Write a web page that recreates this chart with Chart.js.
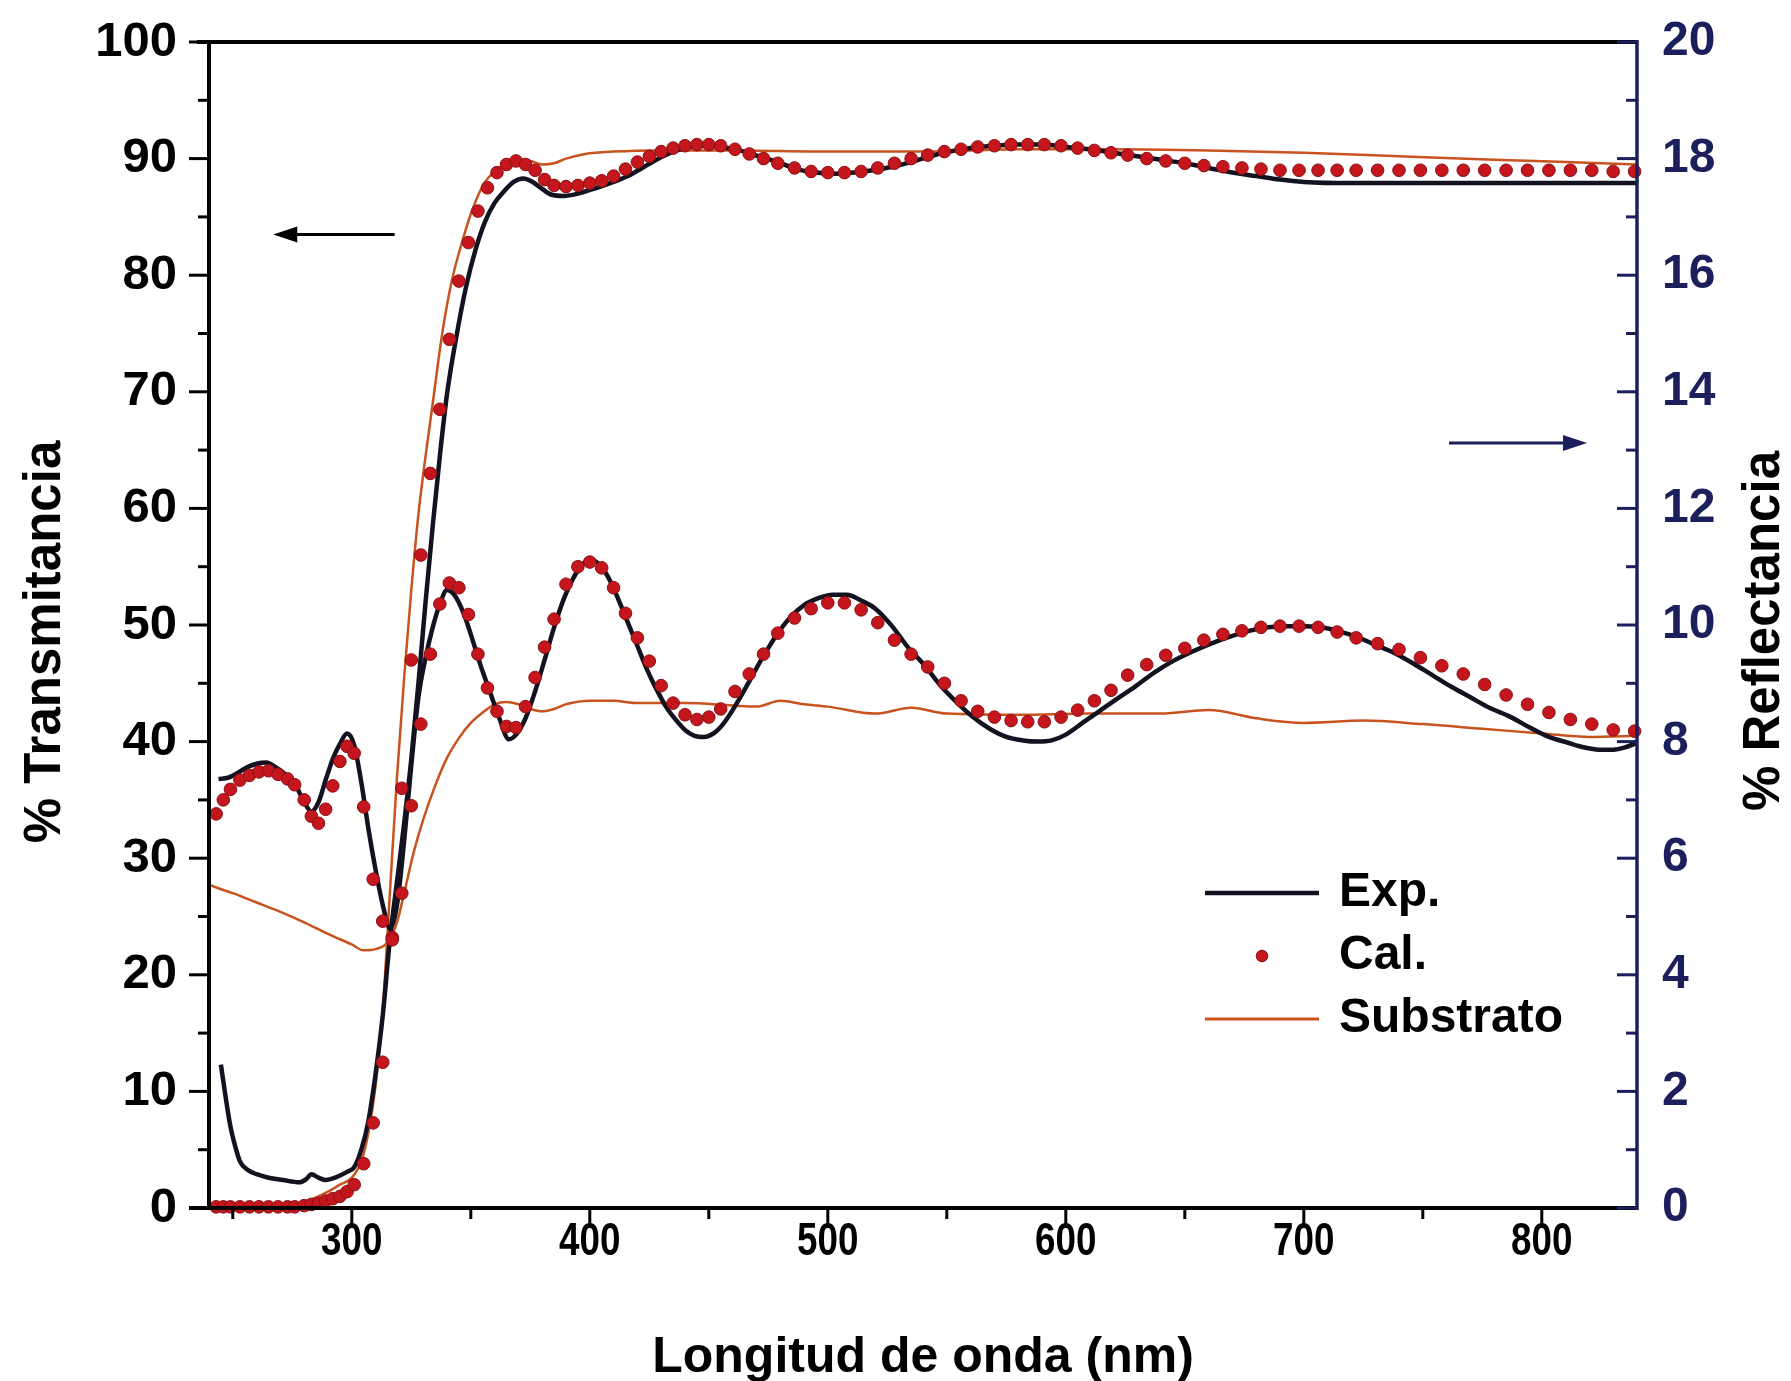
<!DOCTYPE html>
<html><head><meta charset="utf-8">
<script src="https://cdn.jsdelivr.net/npm/chart.js@4.4.1/dist/chart.umd.min.js"></script>
<style>html,body{margin:0;padding:0;background:#fff;overflow:hidden}canvas{display:block}</style>
</head><body>
<canvas id="c" width="1791" height="1381"></canvas>
<script>
// ---- tick values ----
const xTickVals=[300,400,500,600,700,800];
const xMinorVals=[250,350,450,550,650,750];
const yTickVals=[0,10,20,30,40,50,60,70,80,90,100];
const yMinorVals=[5,15,25,35,45,55,65,75,85,95];
const y2TickVals=[0,2,4,6,8,10,12,14,16,18,20];
const y2MinorVals=[1,3,5,7,9,11,13,15,17,19];
const seriesLabels=['Exp.','Cal.','Substrato'];
const xTitle='Longitud de onda (nm)';
const yTitle='% Transmitancia';
const y2Title='% Reflectancia';

// ---- Exp. transmittance (%) ----
const expTX=[245,247,249,251,253,256,260,265,271,278,281,283,286,289,293,298,301,304,307,310,313,316,319,322,325,328,331,334,337,340,344,348,352,356,360,364,368,372,376,380,384,389,395,403,410,416,422,428,434,440,447,455,463,471,479,487,495,503,511,519,527,535,543,551,560,570,580,590,600,610,620,630,640,650,660,670,680,690,700,720,740,760,780,800,820,840];
const expT=[12.3,9.5,7.0,5.3,4.0,3.3,2.9,2.6,2.4,2.2,2.5,2.9,2.6,2.4,2.6,3.1,3.5,5.0,7.5,11.5,16.5,23.0,28.0,33.0,38.5,45.0,52.0,58.5,64.5,69.8,74.8,79.0,82.2,84.6,86.2,87.2,88.0,88.3,88.0,87.4,86.9,86.8,87.0,87.5,88.0,88.5,89.2,89.9,90.5,90.9,91.1,91.0,90.7,90.2,89.7,89.1,88.8,88.7,88.8,89.0,89.3,89.7,90.2,90.6,90.9,91.1,91.2,91.2,91.0,90.8,90.5,90.2,89.9,89.6,89.2,88.8,88.5,88.2,88.0,87.9,87.9,87.9,87.9,87.9,87.9,87.9];

// ---- Exp. reflectance (%) ----
const expRX=[244,248,252,256,260,264,268,272,276,280,283,286,289,292,295,298,301,304,307,310,313,316,319,322,325,328,331,334,337,340,343,347,350,354,358,362,366,369,373,377,381,385,389,393,397,400,404,408,412,416,420,424,428,432,436,440,444,448,452,456,460,466,472,478,484,490,496,502,508,514,520,527,534,540,547,554,561,568,575,582,588,594,600,607,614,621,629,637,645,653,661,669,677,685,693,700,707,714,722,730,738,746,754,762,770,778,787,795,803,811,818,825,830,835,840];
const expR=[7.36,7.38,7.46,7.56,7.62,7.64,7.56,7.44,7.28,6.96,6.80,6.96,7.34,7.70,7.96,8.14,7.94,7.30,6.50,5.80,5.20,4.80,5.20,6.30,7.60,8.76,9.44,9.96,10.36,10.60,10.52,10.20,9.84,9.32,8.86,8.40,8.04,8.12,8.40,8.86,9.40,9.96,10.44,10.80,11.04,11.12,11.04,10.80,10.44,10.04,9.64,9.24,8.90,8.60,8.38,8.20,8.10,8.08,8.14,8.30,8.54,8.96,9.40,9.80,10.12,10.34,10.46,10.52,10.52,10.42,10.28,9.98,9.60,9.34,8.98,8.68,8.42,8.22,8.08,8.02,8.00,8.02,8.12,8.32,8.52,8.72,8.94,9.18,9.38,9.54,9.68,9.80,9.90,9.96,9.98,9.98,9.96,9.90,9.80,9.66,9.52,9.34,9.14,8.94,8.76,8.58,8.42,8.24,8.08,7.98,7.90,7.86,7.86,7.90,7.98];

// ---- Cal. (calculated points) ----
const calX=[243,246,249,253,257,261,265,269,273,276,280,283,286,289,292,295,298,301,305,309,313,317,321,325,329,333,337,341,345,349,353,357,361,365,369,373,377,381,385,390,395,400,405,410,415,420,425,430,435,440,445,450,455,461,467,473,479,486,493,500,507,514,521,528,535,542,549,556,563,570,577,584,591,598,605,612,619,626,634,642,650,658,666,674,682,690,698,706,714,722,731,740,749,758,767,776,785,794,803,812,821,830,839];
const calT=[0.1,0.1,0.1,0.1,0.1,0.1,0.1,0.1,0.1,0.1,0.2,0.3,0.4,0.6,0.8,1.0,1.4,2.0,3.8,7.3,12.5,23.0,36.0,47.0,56.0,63.0,68.5,74.5,79.5,82.8,85.5,87.5,88.8,89.5,89.8,89.5,89.0,88.2,87.7,87.6,87.7,87.9,88.1,88.5,89.1,89.7,90.2,90.6,90.9,91.1,91.2,91.2,91.1,90.8,90.4,90.0,89.6,89.2,88.9,88.8,88.8,88.9,89.2,89.6,90.0,90.3,90.6,90.8,91.0,91.1,91.2,91.2,91.2,91.1,90.9,90.7,90.5,90.3,90.0,89.8,89.6,89.4,89.3,89.2,89.1,89.0,89.0,89.0,89.0,89.0,89.0,89.0,89.0,89.0,89.0,89.0,89.0,89.0,89.0,89.0,89.0,88.9,88.9];
const calR=[6.76,7.00,7.18,7.34,7.42,7.48,7.50,7.44,7.36,7.26,7.00,6.72,6.60,6.84,7.24,7.66,7.92,7.80,6.88,5.64,4.92,4.64,5.40,6.90,8.30,9.50,10.36,10.72,10.64,10.18,9.50,8.92,8.52,8.26,8.24,8.60,9.10,9.62,10.10,10.70,11.00,11.08,10.98,10.64,10.20,9.78,9.38,8.96,8.66,8.46,8.38,8.42,8.56,8.86,9.16,9.50,9.86,10.12,10.28,10.38,10.38,10.26,10.04,9.74,9.50,9.28,9.00,8.70,8.52,8.42,8.36,8.34,8.34,8.42,8.54,8.70,8.88,9.14,9.32,9.48,9.60,9.74,9.84,9.90,9.96,9.98,9.98,9.96,9.88,9.78,9.68,9.58,9.44,9.30,9.16,8.98,8.80,8.64,8.50,8.38,8.30,8.20,8.18];

// ---- Substrate ----
const subTX=[240,250,260,270,275,280,285,290,295,300,304,307,310,313,316,319,322,325,328,331,334,338,342,347,351,356,361,366,370,375,380,385,390,398,410,430,460,500,540,580,620,660,700,740,780,810,840];
const subT=[0.1,0.1,0.1,0.1,0.2,0.5,0.9,1.4,2.0,2.6,4.0,6.5,10.5,17.0,27.0,37.0,45.5,53.0,59.5,64.5,69.0,75.0,79.5,83.3,85.8,88.0,89.0,89.6,89.9,89.8,89.5,89.6,90.0,90.4,90.6,90.7,90.7,90.6,90.6,90.8,90.8,90.7,90.5,90.2,89.9,89.7,89.5];
const subRX=[240,250,260,270,280,290,300,305,310,315,319,322,326,330,335,340,345,350,355,360,365,370,375,380,385,390,400,410,420,440,460,470,480,490,500,520,535,550,580,610,640,660,680,700,725,750,775,800,820,840];
const subR=[5.54,5.40,5.24,5.08,4.90,4.70,4.52,4.42,4.44,4.56,4.90,5.40,6.10,6.66,7.24,7.72,8.06,8.32,8.50,8.64,8.68,8.64,8.56,8.52,8.56,8.64,8.70,8.70,8.66,8.66,8.62,8.60,8.70,8.64,8.60,8.48,8.58,8.48,8.46,8.48,8.48,8.54,8.40,8.32,8.36,8.30,8.22,8.14,8.08,8.10];

// ---- styles ----
const FONT='"Liberation Sans", Arial, Helvetica, sans-serif';
const expColor='#121220';
const calColor='#c4161c';
const calEdge='#8a1014';
const subColor='#c9531f';
const navy='#1b1f5c';

const pts=(xs,ys)=>xs.map((x,i)=>({x:x,y:ys[i]}));

const expStyle={borderColor:expColor,borderWidth:4.5,pointRadius:0,cubicInterpolationMode:'monotone',fill:false,order:2};
const calStyle={showLine:false,pointRadius:6.3,pointBackgroundColor:calColor,pointBorderColor:calEdge,pointBorderWidth:1,order:1,clip:10};
const subStyle={borderColor:subColor,borderWidth:2.5,pointRadius:0,cubicInterpolationMode:'monotone',fill:false,order:3};

function drawArrow(ctx,x1,y,x2,color,lw){
  ctx.save();
  ctx.strokeStyle=color;ctx.fillStyle=color;ctx.lineWidth=lw;
  const dir=Math.sign(x2-x1);
  ctx.beginPath();ctx.moveTo(x1,y);ctx.lineTo(x2-dir*18,y);ctx.stroke();
  ctx.beginPath();ctx.moveTo(x2,y);ctx.lineTo(x2-dir*24,y-8);ctx.lineTo(x2-dir*24,y+8);ctx.closePath();ctx.fill();
  ctx.restore();
}

const noPad=s=>{s.paddingTop=0;s.paddingBottom=0;s.paddingLeft=0;s.paddingRight=0;};

const framePlugin={
  id:'frame',
  afterDraw(chart){
    const {ctx,chartArea:a,scales:{x,y,y2}}=chart;
    ctx.save();
    ctx.lineCap='butt';
    // axis lines
    ctx.strokeStyle='#000';ctx.lineWidth=4;
    ctx.beginPath();ctx.moveTo(a.left-12,a.top);ctx.lineTo(a.right,a.top);ctx.stroke();
    ctx.beginPath();ctx.moveTo(a.left-20,a.bottom);ctx.lineTo(a.right,a.bottom);ctx.stroke();
    ctx.beginPath();ctx.moveTo(a.left,a.top-2);ctx.lineTo(a.left,a.bottom+2);ctx.stroke();
    ctx.strokeStyle=navy;ctx.lineWidth=3.5;
    ctx.beginPath();ctx.moveTo(a.right,a.top-2);ctx.lineTo(a.right,a.bottom+2);ctx.stroke();
    // left ticks (outward)
    ctx.strokeStyle='#000';ctx.lineWidth=3;
    yTickVals.forEach(v=>{const p=y.getPixelForValue(v);ctx.beginPath();ctx.moveTo(a.left,p);ctx.lineTo(a.left-20,p);ctx.stroke();});
    yMinorVals.forEach(v=>{const p=y.getPixelForValue(v);ctx.beginPath();ctx.moveTo(a.left,p);ctx.lineTo(a.left-11,p);ctx.stroke();});
    // bottom ticks (outward)
    xTickVals.forEach(v=>{const p=x.getPixelForValue(v);ctx.beginPath();ctx.moveTo(p,a.bottom);ctx.lineTo(p,a.bottom+20);ctx.stroke();});
    xMinorVals.forEach(v=>{const p=x.getPixelForValue(v);ctx.beginPath();ctx.moveTo(p,a.bottom);ctx.lineTo(p,a.bottom+11);ctx.stroke();});
    // bottom tick labels (slightly condensed, as in the original)
    ctx.fillStyle='#000';ctx.textAlign='center';ctx.textBaseline='middle';
    ctx.font='bold 46px '+FONT;
    xTickVals.forEach(v=>{const p=x.getPixelForValue(v);ctx.save();ctx.translate(p,a.bottom+34);ctx.scale(0.8,1);ctx.fillText(String(v),0,0);ctx.restore();});
    // right ticks (inward)
    ctx.strokeStyle=navy;
    y2TickVals.forEach(v=>{const p=y2.getPixelForValue(v);ctx.beginPath();ctx.moveTo(a.right,p);ctx.lineTo(a.right-20,p);ctx.stroke();});
    y2MinorVals.forEach(v=>{const p=y2.getPixelForValue(v);ctx.beginPath();ctx.moveTo(a.right,p);ctx.lineTo(a.right-11,p);ctx.stroke();});
    // arrows
    drawArrow(ctx,x.getPixelForValue(318),y.getPixelForValue(83.5),x.getPixelForValue(267),'#000',3);
    drawArrow(ctx,x.getPixelForValue(761),y.getPixelForValue(65.6),x.getPixelForValue(819),navy,3);
    // y titles (both read bottom-to-top)
    ctx.fillStyle='#000';ctx.textAlign='center';ctx.textBaseline='middle';
    ctx.font='bold 51px '+FONT;
    ctx.save();ctx.translate(46,642);ctx.rotate(-Math.PI/2);ctx.fillText(yTitle,0,0);ctx.restore();
    ctx.save();ctx.translate(1765,631);ctx.rotate(-Math.PI/2);ctx.fillText(y2Title,0,0);ctx.restore();
    // legend
    const lx0=1205,lx1=1319,tx=1339,ly=893,dy=63;
    ctx.textAlign='left';ctx.font='bold 48px '+FONT;
    ctx.strokeStyle=expColor;ctx.lineWidth=4.5;
    ctx.beginPath();ctx.moveTo(lx0,ly);ctx.lineTo(lx1,ly);ctx.stroke();
    ctx.fillText(seriesLabels[0],tx,ly);
    ctx.fillStyle=calColor;ctx.strokeStyle=calEdge;ctx.lineWidth=1;
    ctx.beginPath();ctx.arc((lx0+lx1)/2,ly+dy,5.8,0,Math.PI*2);ctx.fill();ctx.stroke();
    ctx.fillStyle='#000';ctx.fillText(seriesLabels[1],tx,ly+dy);
    ctx.strokeStyle=subColor;ctx.lineWidth=3;
    ctx.beginPath();ctx.moveTo(lx0,ly+2*dy);ctx.lineTo(lx1,ly+2*dy);ctx.stroke();
    ctx.fillText(seriesLabels[2],tx,ly+2*dy);
    ctx.restore();
  }
};

new Chart(document.getElementById('c').getContext('2d'),{
  type:'line',
  data:{datasets:[
    Object.assign({label:seriesLabels[1],data:pts(calX,calT),yAxisID:'y'},calStyle),
    Object.assign({label:seriesLabels[1],data:pts(calX,calR),yAxisID:'y2'},calStyle),
    Object.assign({label:seriesLabels[0],data:pts(expTX,expT),yAxisID:'y'},expStyle),
    Object.assign({label:seriesLabels[0],data:pts(expRX,expR),yAxisID:'y2'},expStyle),
    Object.assign({label:seriesLabels[2],data:pts(subTX,subT),yAxisID:'y'},subStyle),
    Object.assign({label:seriesLabels[2],data:pts(subRX,subR),yAxisID:'y2'},subStyle)
  ]},
  options:{
    responsive:false,animation:false,devicePixelRatio:1,
    layout:{padding:{top:42,left:0,right:0,bottom:0}},
    plugins:{legend:{display:false},tooltip:{enabled:false}},
    scales:{
      x:{type:'linear',position:'bottom',min:240,max:840,
        afterBuildTicks:s=>{s.ticks=xTickVals.map(v=>({value:v}));},
        afterFit:s=>{s.height=173;noPad(s);},
        grid:{display:false,drawTicks:false},border:{display:false},
        ticks:{display:false},
        title:{display:true,text:xTitle,font:{family:FONT,weight:'bold',size:50,lineHeight:0.9},color:'#000',padding:{top:0,bottom:0}}
      },
      y:{type:'linear',position:'left',min:0,max:100,
        afterBuildTicks:s=>{s.ticks=yTickVals.map(v=>({value:v}));},
        afterFit:s=>{s.width=209;noPad(s);},
        grid:{display:false,drawTicks:false},border:{display:false},
        ticks:{font:{family:FONT,weight:'bold',size:49,lineHeight:1},color:'#000',padding:32}
      },
      y2:{type:'linear',position:'right',min:0,max:20,
        afterBuildTicks:s=>{s.ticks=y2TickVals.map(v=>({value:v}));},
        afterFit:s=>{s.width=154;noPad(s);},
        grid:{display:false,drawTicks:false},border:{display:false},
        ticks:{font:{family:FONT,weight:'bold',size:48,lineHeight:1},color:navy,padding:25}
      }
    }
  },
  plugins:[framePlugin]
});
</script>
</body></html>
